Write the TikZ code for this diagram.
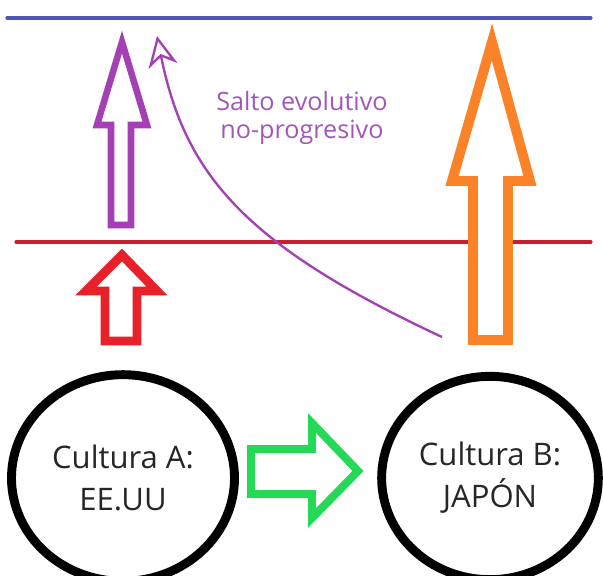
\documentclass[tikz,border=0pt]{standalone}
\usepackage{fontspec}
\setmainfont{Open Sans}
\usetikzlibrary{arrows.meta,shapes.geometric}

\definecolor{azul}{HTML}{5055B5}
\definecolor{rojoLinea}{HTML}{C42030}
\definecolor{rojo}{HTML}{E62129}
\definecolor{morado}{HTML}{A43FB4}
\definecolor{moradoTxt}{HTML}{A257B8}
\definecolor{naranja}{HTML}{FA8228}
\definecolor{verde}{HTML}{24D955}

\tikzset{
    nivel/.style={line width=2.6pt, line cap=round},
    flecha/.style={line width=#1, line join=miter, fill=white},
    cultura/.style={ellipse, draw=black, line width=7.6pt, align=center, inner sep=0pt,
        font=\fontsize{26.5}{36}\selectfont, text=black!85},
    curva/.style={draw=morado, line width=2pt,
        -{Stealth[open, length=26pt, width=25pt, inset=8pt, line width=2pt]}}
}

\begin{document}
\begin{tikzpicture}[x=0.03cm, y=-0.03cm]
    \useasboundingbox (0,0) rectangle (603,575);

    % niveles
    \draw[nivel, azul] (7,18) -- (591,18);
    \draw[nivel, rojoLinea] (16,242) -- (591,242);

    % flechas de avance
    \draw[flecha=7.6pt, draw=rojo] (122,255) -- (157,291) -- (137,291) -- (137,341)
        -- (105,341) -- (105,291) -- (86,291) -- cycle;
    \draw[flecha=5.6pt, draw=morado] (122,42) -- (147,125) -- (131,125) -- (131,225)
        -- (111,225) -- (111,125) -- (97,125) -- cycle;
    \draw[flecha=8.5pt, draw=naranja] (492,42) -- (530,181) -- (508,181) -- (508,340)
        -- (473,340) -- (473,181) -- (452,181) -- cycle;

    % culturas
    \node[cultura, minimum width=6.69cm, minimum height=6.2cm] (cultA) at (123,478)
        {Cultura A:\\EE.UU};
    \node[cultura, minimum width=6.5cm, minimum height=6.1cm] (cultB) at (490,478)
        {Cultura B:\\JAPÓN};

    \draw[flecha=6.8pt, draw=verde] (358,471) -- (312,518) -- (312,494) -- (251,494)
        -- (251,449) -- (312,449) -- (312,423) -- cycle;

    % salto
    \coordinate (saltoIni) at (442,337);
    \coordinate (saltoFin) at (157,36);
    \draw[curva] (saltoIni) .. controls (245,245) and (185,175) .. (saltoFin);
    \node[moradoTxt, align=center, font=\fontsize{21.5}{23.5}\selectfont]
        (salto) at (302,118) {Salto evolutivo\\no-progresivo};
\end{tikzpicture}
\end{document}
